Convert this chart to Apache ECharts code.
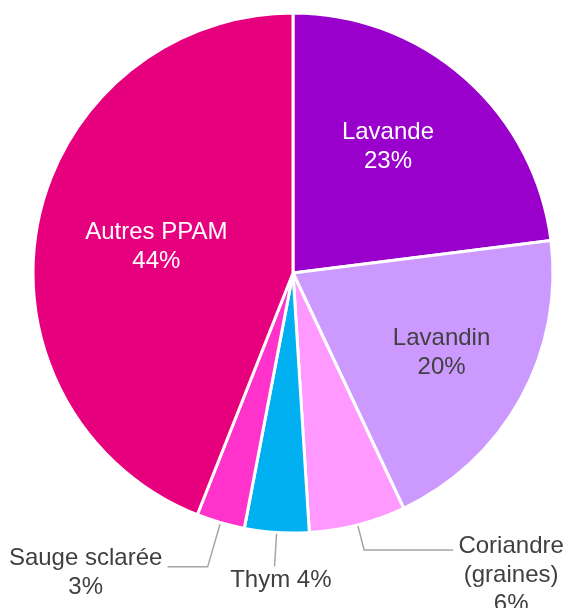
<!DOCTYPE html>
<html>
<head>
<meta charset="utf-8">
<script src="https://cdn.jsdelivr.net/npm/echarts@6/dist/echarts.min.js"></script>
<style>
  html, body { margin: 0; padding: 0; background: #fff; }
  #chart { width: 565px; height: 608px; }
</style>
</head>
<body>
<div id="chart"></div>
<script>
  // categories and shares (%)
  var categories = ['Lavande', 'Lavandin', 'Coriandre (graines)', 'Thym', 'Sauge sclarée', 'Autres PPAM'];
  var shares = [23, 20, 6, 4, 3, 44];
  var labelTexts = ['Lavande\n23%', 'Lavandin\n20%', 'Coriandre\n(graines)\n6%', 'Thym 4%', 'Sauge sclarée\n3%', 'Autres PPAM\n44%'];

  var colors = ['#9900CC', '#CC99FF', '#FF99FF', '#00B0F0', '#FF33CC', '#E6007E'];
  var labelColors = ['#ffffff', '#404040', '#404040', '#404040', '#404040', '#ffffff'];
  var inside = [true, true, false, false, false, true];
  // label nudges [dx, dy]
  var nudges = [[7, -26], [32, 16], [0, 0], [62, 14], [0, 0], [-6, -1]];
  var lineLen = [0, 0, 26, 34, 46, 0];
  var lineLen2 = [0, 0, 89, 0, 40, 0];
  var padTop = [0, 0, 50, 0, 13, 0];
  var blockWidth = [0, 0, 106, 0, 154, 0];

  var FONT = 'Liberation Sans, Arial, sans-serif';
  var myChart = echarts.init(document.getElementById('chart'));

  var data = categories.map(function (name, i) {
    var lbl = {
      position: inside[i] ? 'inside' : 'outside',
      color: labelColors[i],
      padding: [padTop[i], 0, 0, 0]
    };
    if (blockWidth[i]) {
      lbl.rich = { c: { width: blockWidth[i], align: 'center', fontSize: 24, lineHeight: 29, color: '#404040', fontFamily: FONT } };
    }
    return {
      name: name,
      value: shares[i],
      itemStyle: { color: colors[i] },
      label: lbl,
      labelLine: { length: lineLen[i], length2: lineLen2[i] }
    };
  });

  var option = {
    animation: false,
    backgroundColor: '#ffffff',
    series: [{
      type: 'pie',
      center: [293, 273],
      radius: 260,
      startAngle: 90,
      clockwise: true,
      avoidLabelOverlap: false,
      itemStyle: { borderColor: '#ffffff', borderWidth: 3 },
      label: {
        fontSize: 24,
        lineHeight: 29,
        fontFamily: FONT,
        distanceToLabelLine: 5,
        formatter: function (p) {
          var t = labelTexts[p.dataIndex];
          if (blockWidth[p.dataIndex]) {
            return t.split('\n').map(function (s) { return '{c|' + s + '}'; }).join('\n');
          }
          return t;
        }
      },
      labelLine: {
        lineStyle: { color: '#A6A6A6', width: 1.5 }
      },
      labelLayout: function (p) {
        var n = nudges[p.dataIndex];
        return { dx: n[0], dy: n[1] };
      },
      data: data
    }]
  };

  myChart.setOption(option);
</script>
</body>
</html>
